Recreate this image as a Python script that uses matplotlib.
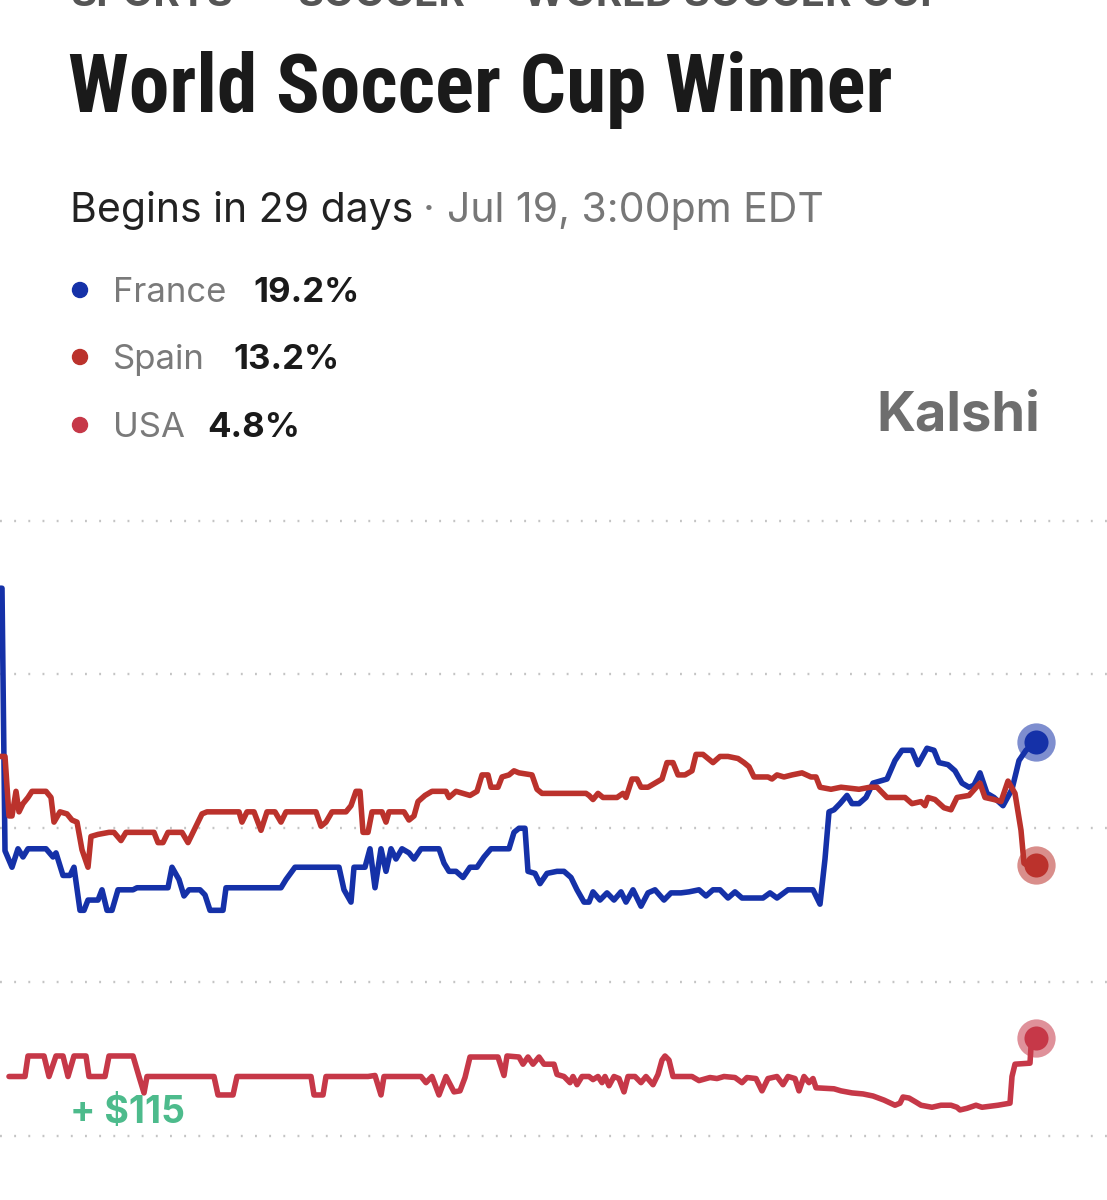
import matplotlib
matplotlib.use("Agg")
import matplotlib.pyplot as plt

# time steps (arbitrary units across the chart) and chance in %
france_t = [0, 2, 5, 12, 18, 23, 28, 46, 53, 56, 63, 70, 74, 80, 84, 88, 98, 102, 107, 112,
            118, 133, 137, 168, 172, 179, 184, 189, 200, 205, 210, 223, 226, 281, 286, 295,
            339, 344, 351, 354, 365, 370, 375, 381, 386, 391, 396, 402, 409, 414, 421, 439,
            444, 449, 456, 463, 470, 477, 484, 491, 509, 514, 519, 525, 528, 535, 540, 547,
            557, 564, 571, 577, 584, 589, 593, 600, 607, 614, 621, 626, 633, 641, 648, 655,
            664, 671, 681, 689, 699, 706, 713, 720, 728, 735, 742, 763, 770, 777, 788, 813,
            820, 825, 829, 834, 840, 847, 852, 859, 866, 873, 887, 895, 902, 912, 918, 927,
            934, 939, 948, 955, 962, 969, 974, 980, 987, 994, 1003, 1012, 1019, 1026, 1036]
france_v = [26.7, 26.7, 13.9, 13.1, 14.0, 13.6, 14.0, 14.0, 13.6, 13.8, 12.7, 12.7, 13.1, 11.0, 11.0, 11.5, 11.5, 12.0, 11.0, 11.0,
            12.0, 12.0, 12.1, 12.1, 13.1, 12.5, 11.7, 12.0, 12.0, 11.75, 11.0, 11.0, 12.1, 12.1, 12.5, 13.1,
            13.1, 12.0, 11.4, 13.1, 13.1, 14.0, 12.1, 14.0, 12.9, 14.0, 13.5, 14.0, 13.8, 13.5, 14.0, 14.0,
            13.3, 12.9, 12.9, 12.6, 13.1, 13.1, 13.6, 14.0, 14.0, 14.8, 15.0, 15.0, 12.9, 12.8, 12.3, 12.8,
            12.9, 12.9, 12.6, 12.0, 11.4, 11.4, 11.9, 11.5, 11.85, 11.5, 11.9, 11.4, 12.0, 11.2, 11.85, 12.0,
            11.5, 11.85, 11.85, 11.9, 12.0, 11.7, 12.0, 12.0, 11.6, 11.9, 11.6, 11.6, 11.85, 11.6, 12.0, 12.0,
            11.3, 13.5, 15.8, 15.9, 16.2, 16.6, 16.2, 16.2, 16.5, 17.2, 17.4, 18.3, 18.8, 18.8, 18.1, 18.9,
            18.8, 18.2, 18.1, 17.8, 17.2, 17.0, 17.1, 17.7, 16.7, 16.5, 16.1, 16.9, 18.3, 18.8, 19.2]

spain_t = [0, 5, 9, 12, 16, 19, 23, 28, 32, 46, 51, 54, 60, 67, 72, 77, 82, 88, 91, 98,
           109, 114, 121, 126, 154, 158, 163, 168, 182, 188, 193, 198, 202, 207, 239, 242, 247, 254, 261, 267,
           275, 281, 286, 316, 321, 326, 332, 346, 351, 356, 360, 363, 368, 372, 382, 386, 389, 404, 409, 414,
           418, 425, 432, 446, 449, 456, 470, 477, 482, 488, 491, 498, 502, 509, 514, 519, 532, 537, 542, 550,
           586, 589, 593, 598, 603, 610, 617, 623, 626, 632, 637, 641, 648, 655, 662, 667, 673, 678, 685, 692,
           696, 703, 713, 720, 728, 738, 744, 749, 754, 768, 772, 777, 784, 792, 802, 811, 816, 820, 831, 841,
           859, 870, 877, 887, 905, 912, 921, 925, 928, 935, 944, 951, 957, 969, 980, 985, 994, 1001, 1008, 1015,
           1021, 1024, 1030, 1036]
spain_v = [18.5, 18.5, 15.6, 15.6, 16.8, 15.8, 16.2, 16.5, 16.8, 16.8, 16.5, 15.3, 15.8, 15.7, 15.4, 15.3, 13.95, 13.1, 14.6, 14.7,
           14.8, 14.8, 14.4, 14.8, 14.8, 14.3, 14.3, 14.8, 14.8, 14.3, 14.8, 15.3, 15.7, 15.8, 15.8, 15.3, 15.8, 15.8, 14.9, 15.8,
           15.8, 15.3, 15.8, 15.8, 15.1, 15.3, 15.8, 15.8, 16.1, 16.8, 16.8, 14.8, 14.8, 15.8, 15.8, 15.3, 15.8, 15.8, 15.4, 15.6,
           16.3, 16.6, 16.8, 16.8, 16.5, 16.8, 16.6, 16.8, 17.6, 17.6, 17.0, 17.0, 17.5, 17.6, 17.8, 17.7, 17.6, 16.9, 16.7, 16.7,
           16.7, 16.6, 16.4, 16.7, 16.5, 16.5, 16.5, 16.7, 16.5, 17.4, 17.4, 17.0, 17.0, 17.2, 17.4, 18.2, 18.2, 17.6, 17.6, 17.8,
           18.6, 18.6, 18.2, 18.5, 18.5, 18.4, 18.2, 18.0, 17.5, 17.5, 17.4, 17.6, 17.5, 17.6, 17.7, 17.5, 17.5, 17.0, 16.9, 17.0,
           16.9, 17.0, 17.0, 16.5, 16.5, 16.2, 16.3, 16.1, 16.5, 16.4, 16.0, 15.9, 16.5, 16.6, 17.2, 16.5, 16.4, 16.3, 17.3, 16.7,
           14.9, 13.3, 13.1, 13.2]

usa_t = [9, 25, 28, 44, 49, 56, 63, 68, 74, 86, 89, 105, 109, 133, 139, 144, 147, 214, 218, 233,
         237, 311, 314, 323, 326, 368, 375, 381, 384, 421, 426, 432, 439, 446, 454, 460, 465, 470, 498, 504,
         507, 519, 523, 528, 533, 539, 544, 554, 557, 564, 570, 573, 577, 582, 589, 593, 598, 602, 605, 609,
         614, 619, 624, 628, 635, 641, 646, 653, 658, 662, 665, 669, 673, 692, 699, 710, 717, 724, 735, 742,
         747, 756, 762, 768, 777, 783, 788, 795, 799, 804, 809, 813, 816, 834, 841, 852, 863, 873, 884, 895,
         900, 903, 909, 916, 921, 932, 941, 951, 957, 960, 967, 976, 982, 990, 998, 1010, 1012, 1015, 1030, 1031,
         1036]
usa_v = [2.9, 2.9, 3.9, 3.9, 2.9, 3.9, 3.9, 2.9, 3.9, 3.9, 2.9, 2.9, 3.9, 3.9, 2.9, 2.1, 2.9, 2.9, 2.0, 2.0,
         2.9, 2.9, 2.0, 2.0, 2.9, 2.9, 2.95, 2.0, 2.9, 2.9, 2.6, 2.9, 2.0, 2.9, 2.15, 2.2, 2.85, 3.85, 3.85, 2.95,
         3.9, 3.85, 3.5, 3.85, 3.5, 3.85, 3.5, 3.5, 3.0, 2.9, 2.6, 2.9, 2.5, 2.9, 2.9, 2.75, 2.9, 2.6, 2.9, 2.45,
         2.9, 2.8, 2.15, 2.9, 2.9, 2.6, 2.9, 2.5, 3.0, 3.7, 3.9, 3.7, 2.9, 2.9, 2.7, 2.85, 2.8, 2.9, 2.85, 2.6,
         2.85, 2.8, 2.2, 2.8, 2.9, 2.5, 2.9, 2.8, 2.2, 2.9, 2.6, 2.8, 2.35, 2.3, 2.2, 2.1, 2.05, 1.95, 1.75, 1.5,
         1.6, 1.9, 1.85, 1.65, 1.5, 1.4, 1.5, 1.5, 1.4, 1.27, 1.35, 1.5, 1.4, 1.45, 1.5, 1.6, 2.9, 3.5, 3.55, 4.35,
         4.8]

names = ["France", "Spain", "USA"]
last_pct = ["19.2%", "13.2%", "4.8%"]
crumbs = ["SPORTS", "SOCCER", "WORLD SOCCER CUP"]
grid_vals = [0, 7.5, 15, 22.5, 30]

colors = ["#1531a8", "#bb322c", "#c63848"]

W, H = 1107, 1200
fig = plt.figure(figsize=(W / 100, H / 100), dpi=100)
fig.patch.set_facecolor("white")

def fx(px):
    return px / W

def fy(py):
    return 1 - py / H

# breadcrumb, cut off by the top edge like the screenshot
crumb_x = [70, 297, 523]
for i, (c, cx) in enumerate(zip(crumbs, crumb_x)):
    fig.text(fx(cx), fy(6), c, fontsize=29, color="#555555", fontweight="bold",
             family=["Inter", "DejaVu Sans"], va="baseline", ha="left")
    if i > 0:
        fig.text(fx(cx - 34), fy(6), "·", fontsize=29, color="#555555", fontweight="bold",
                 family=["Inter", "DejaVu Sans"], va="baseline", ha="center")

fig.text(fx(68), fy(112), "World Soccer Cup Winner", fontsize=58.5, color="#1a1a1a", fontweight="bold",
         family=["Liberation Sans Narrow", "Roboto Condensed", "DejaVu Sans Condensed", "Liberation Sans"],
         va="baseline", ha="left")
fig.text(fx(70), fy(222), "Begins in 29 days", fontsize=29.5, color="#222222",
         family=["Inter", "DejaVu Sans"], va="baseline")
fig.text(fx(429), fy(222), "·", fontsize=29.5, color="#777777", family=["Inter", "DejaVu Sans"],
         va="baseline", ha="center")
fig.text(fx(447), fy(222), "Jul 19, 3:00pm EDT", fontsize=29.5, color="#777777",
         family=["Inter", "DejaVu Sans"], va="baseline")

# legend
leg_y = [302, 369, 437]
val_x = [253, 233, 207]
for name, pct, col, ly, vx in zip(names, last_pct, colors, leg_y, val_x):
    fig.patches.append(matplotlib.patches.Ellipse((fx(80), fy(ly - 12)), 15 / W, 15 / H, color=col,
                                                  transform=fig.transFigure))
    fig.text(fx(113), fy(ly), name, fontsize=25, color="#7a7a7a", family=["Inter", "DejaVu Sans"],
             va="baseline")
    fig.text(fx(vx), fy(ly), pct, fontsize=25, color="#1a1a1a", fontweight="bold",
             family=["Inter", "DejaVu Sans"], va="baseline")

fig.text(fx(1040), fy(430), "Kalshi", fontsize=39, color="#6e6e6e", fontweight="bold",
         family=["Inter", "DejaVu Sans"], va="baseline", ha="right")

# chart
ax = fig.add_axes([0, fy(1160), 1, (1160 - 500) / H])
ax.set_xlim(0, W)
ax.set_ylim(-1.17, 31.0)
for s in ax.spines.values():
    s.set_visible(False)
ax.set_yticks(grid_vals)
ax.set_xticks([])
ax.tick_params(length=0, labelleft=False)
ax.grid(axis="y", color="#c4c4c4", linestyle=(0, (0.8, 5.2)), linewidth=1.7)
ax.set_axisbelow(True)

series = [(france_t, france_v), (spain_t, spain_v), (usa_t, usa_v)]
for (t, v), col in zip(series, colors):
    ax.plot(t, v, color=col, lw=4.0, solid_joinstyle="round", solid_capstyle="round", zorder=3)
    ax.scatter([t[-1]], [v[-1]], s=760, color=col, alpha=0.55, lw=0, zorder=4)
    ax.scatter([t[-1]], [v[-1]], s=300, color=col, lw=0, zorder=5)

fig.text(fx(70), fy(1123), "+ $115", fontsize=27, color="#4dbb8c", fontweight="bold",
         family=["Inter", "DejaVu Sans"], va="baseline")

fig.savefig("out.png", dpi=100, facecolor="white")
